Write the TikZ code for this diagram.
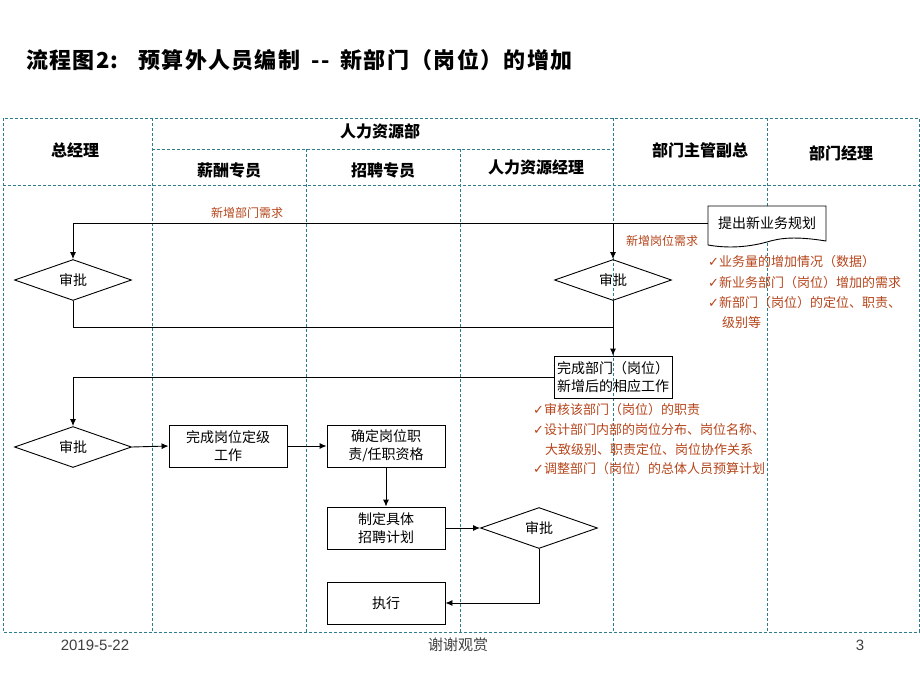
\documentclass[tikz,border=0pt]{standalone}
\usepackage{fontspec}
\setmainfont{Noto Sans CJK SC}
\newfontfamily\titlefont{Noto Sans CJK SC}[LetterSpace=6]
\newfontfamily\symfont{DejaVu Sans}
\newfontfamily\latinfont{Liberation Sans}
\usetikzlibrary{shapes.geometric,arrows.meta}
\definecolor{lane}{HTML}{2E7D8C}
\definecolor{note}{HTML}{B5451B}
\newcommand{\ck}{{\symfont\char"2713}}
\tikzset{
  lanes/.style={draw=lane, line width=0.8pt, dash pattern=on 3pt off 2pt},
  dia/.style={diamond, draw, line width=0.9pt, minimum width=117pt, minimum height=36pt, inner sep=0pt, font=\fontsize{14}{16}\selectfont},
  box/.style={draw, line width=0.9pt, minimum width=118pt, minimum height=42pt, align=center, inner sep=0pt, font=\fontsize{14}{18}\selectfont},
  hdr/.style={font=\fontsize{16}{18}\selectfont\bfseries},
  lbl/.style={text=note, font=\fontsize{12}{14}\selectfont},
  bul/.style={text=note, font=\fontsize{13}{14}\selectfont, anchor=west, inner sep=0pt},
  conn/.style={line width=0.9pt},
  arr/.style={line width=0.9pt, -{Latex[length=7pt,width=6pt]}},
  foot/.style={text=black!75, font=\fontsize{15}{17}\selectfont}
}
\begin{document}
\begin{tikzpicture}[x=1pt,y=-1pt]
\useasboundingbox (0,0) rectangle (920,690);
% title
\node[anchor=west, inner sep=0pt, font=\titlefont\fontsize{22}{24}\selectfont\bfseries] (title) at (26,60) {流程图2:\hspace{0.9em}预算外人员编制\hspace{0.5em}{-}{-}\hspace{0.5em}新部门（岗位）的增加};
% swimlane grid
\draw[lanes] (3,118) rectangle (919,632);
\draw[lanes] (3,185) -- (919,185);
\draw[lanes] (152,149) -- (613,149);
\foreach \x in {152,613,767} \draw[lanes] (\x,118) -- (\x,632);
\foreach \x in {306,460} \draw[lanes] (\x,149) -- (\x,632);
% headers
\node[hdr] (h1) at (75,150) {总经理};
\node[hdr] (h2) at (380,131) {人力资源部};
\node[hdr] (h3) at (229,170) {薪酬专员};
\node[hdr] (h4) at (383,170) {招聘专员};
\node[hdr] (h5) at (536,167) {人力资源经理};
\node[hdr] (h6) at (700,150) {部门主管副总};
\node[hdr] (h7) at (841,153) {部门经理};
% document shape
\draw[line width=0.9pt, fill=white] (708,206) -- (826,206) -- (826,241) .. controls (795,236) and (780,238) .. (767,242) .. controls (745,248) and (725,248) .. (708,245) -- cycle;
\node[minimum width=118pt, minimum height=34pt, inner sep=0pt, font=\fontsize{14}{16}\selectfont] (plan) at (767,223) {提出新业务规划};
% diamonds and boxes
\node[dia] (d1) at (73,280) {审批};
\node[dia] (d2) at (613,280) {审批};
\node[box] (work) at (613,377) {完成部门（岗位）\\新增后的相应工作};
\node[dia] (d3) at (73,447) {审批};
\node[box] (grade) at (228,446) {完成岗位定级\\工作};
\node[box] (duty) at (386,446) {确定岗位职\\责/任职资格};
\node[box] (plan2) at (386,528) {制定具体\\招聘计划};
\node[dia] (d4) at (539,528) {审批};
\node[box] (exec) at (386,603) {执行};
% connectors
\coordinate (j1) at (613,327);
\draw[arr] (plan.west) -| (d1.north);
\draw[arr] (d2.north |- plan.west) -- (d2.north);
\draw[conn] (d1.south) |- (j1);
\draw[arr] (d2.south) -- (work.north);
\draw[arr] (work.west) -| (d3.north);
\draw[arr] (d3.east) -- (grade.west);
\draw[arr] (grade.east) -- (duty.west);
\draw[arr] (duty.south) -- (plan2.north);
\draw[arr] (plan2.east) -- (d4.west);
\draw[arr] (d4.south) |- (exec.east);
% labels
\node[lbl] (l1) at (247,213) {新增部门需求};
\node[lbl] (l2) at (662,241) {新增岗位需求};
% bullets
\node[bul] (b1) at (708,262) {\ck 业务量的增加情况（数据）};
\node[bul] (b2) at (708,283) {\ck 新业务部门（岗位）增加的需求};
\node[bul] (b3) at (708,303) {\ck 新部门（岗位）的定位、职责、};
\node[bul] (b4) at (722,323) {级别等};
\node[bul] (c1) at (533,410) {\ck 审核该部门（岗位）的职责};
\node[bul] (c2) at (533,430) {\ck 设计部门内部的岗位分布、岗位名称、};
\node[bul] (c3) at (545,450) {大致级别、职责定位、岗位协作关系};
\node[bul] (c4) at (533,469) {\ck 调整部门（岗位）的总体人员预算计划};
% footer
\node[foot, font=\latinfont\fontsize{15}{17}\selectfont] (f1) at (95,645) {2019-5-22};
\node[foot] (f2) at (458,645) {谢谢观赏};
\node[foot, font=\latinfont\fontsize{15}{17}\selectfont] (f3) at (860,645) {3};
\end{tikzpicture}
\end{document}
